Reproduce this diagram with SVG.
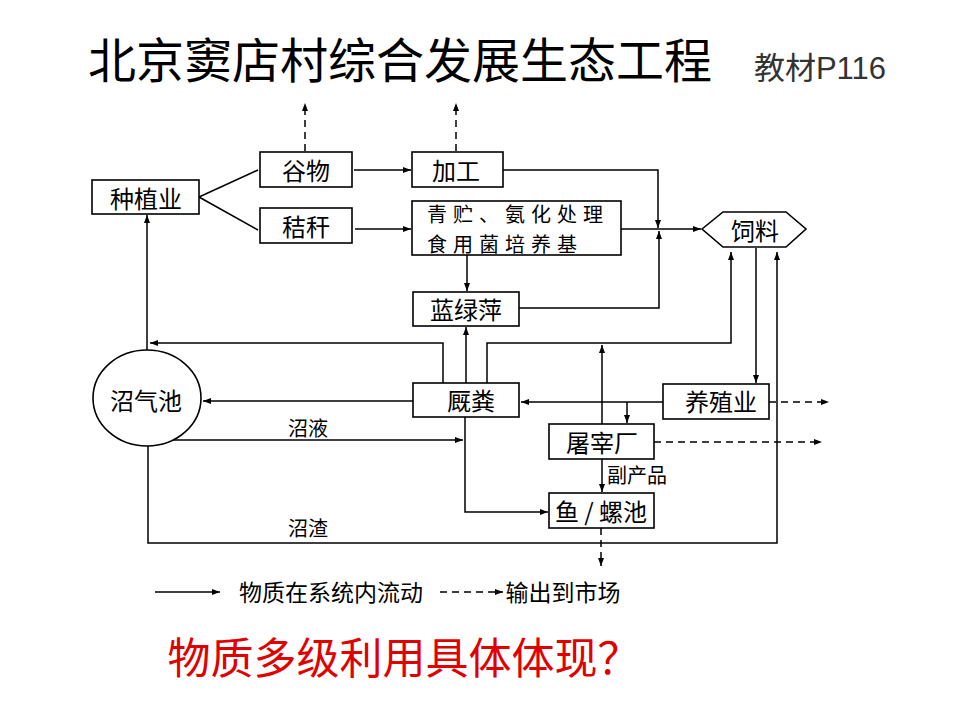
<svg xmlns="http://www.w3.org/2000/svg" width="960" height="720" viewBox="0 0 960 720">
<defs>
<marker id="ah" markerUnits="userSpaceOnUse" markerWidth="9" markerHeight="6" refX="8" refY="3" orient="auto"><path d="M0,0 L8,3 L0,6 z" fill="#000"/></marker>
</defs>
<style>
.box{fill:#fff;stroke:#000;stroke-width:1.6}
.ln{fill:none;stroke:#000;stroke-width:1.5}
.ar{fill:none;stroke:#000;stroke-width:1.5;marker-end:url(#ah)}
.da{fill:none;stroke:#000;stroke-width:1.5;stroke-dasharray:7 5;marker-end:url(#ah)}
.t{font-family:"Noto Sans CJK SC","Noto Sans CJK TC",sans-serif;font-size:24px;fill:#000;text-anchor:middle;dominant-baseline:central}
.s{font-family:"Noto Sans CJK SC",sans-serif;font-size:20px;fill:#000;dominant-baseline:central}
</style>
<rect width="960" height="720" fill="#fff"/>
<text x="400" y="57" font-family="'Noto Sans CJK SC',sans-serif" font-size="48" text-anchor="middle" dominant-baseline="central" fill="#000">北京窦店村综合发展生态工程</text>
<text x="820" y="68" font-family="'Liberation Sans','Noto Sans CJK SC',sans-serif" font-size="31" text-anchor="middle" dominant-baseline="central" fill="#333">教材P116</text>

<g id="connectors">
<path class="ln" d="M199,197 L258,170"/>
<path class="ln" d="M199,197 L258,230"/>
<path class="ar" d="M354,170 H411"/>
<path class="ar" d="M355,229 H411"/>
<path class="da" d="M305,151 V103"/>
<path class="da" d="M456,151 V103"/>
<path class="ar" d="M503,170 H658 V228"/>
<path class="ar" d="M621,229 H701"/>
<path class="ar" d="M519,308 H659 V231"/>
<path class="ar" d="M467,255 V291"/>
<path class="ar" d="M466,383 V327"/>
<path class="ar" d="M443,383 V343 H150"/>
<path class="ar" d="M487,383 V343 H731 V252"/>
<path class="ar" d="M602,424 V345"/>
<path class="ar" d="M756,248 V383"/>
<path class="ar" d="M148,446 V543 H777 V252"/>
<path class="ar" d="M663,402 H521"/>
<path class="ar" d="M627,402 V423"/>
<path class="ar" d="M413,401 H203"/>
<path class="ar" d="M147,350 V215"/>
<path class="ar" d="M173,440 H463"/>
<path class="ar" d="M465,417 V512 H548"/>
<path class="ar" d="M602,459 V492"/>
<path class="da" d="M601,528 V566"/>
<path class="da" d="M769,402 H829"/>
<path class="da" d="M654,442 H822"/>
<path class="ar" d="M155,592 H220"/>
<path class="da" d="M440,592 H503"/>
</g>

<g id="n-zhongzhi"><rect class="box" x="92" y="180" width="107" height="34"/><text class="t" x="146" y="197">种植业</text></g>
<g id="n-guwu"><rect class="box" x="260" y="152" width="92" height="35"/><text class="t" x="306" y="169">谷物</text></g>
<g id="n-jiegan"><rect class="box" x="260" y="208" width="92" height="35"/><text class="t" x="306" y="225">秸秆</text></g>
<g id="n-jiagong"><rect class="box" x="412" y="152" width="91" height="35"/><text class="t" x="456" y="169">加工</text></g>
<g id="n-qingzhu"><rect class="box" x="412" y="201" width="209" height="54"/><text class="t" style="text-anchor:start;font-size:20px;letter-spacing:6px"><tspan x="427" y="213">青贮、氨化处理</tspan><tspan x="427" y="243">食用菌培养基</tspan></text></g>
<g id="n-siliao"><polygon class="box" points="702,229 723,212 786,212 806,229 786,247 723,247"/><text class="t" x="755" y="229">饲料</text></g>
<g id="n-lanlvping"><rect class="box" x="413" y="292" width="106" height="34"/><text class="t" x="466" y="308">蓝绿萍</text></g>
<g id="n-jiufen"><rect class="box" x="413" y="383" width="106" height="34"/><text class="t" x="471" y="399">厩粪</text></g>
<g id="n-yangzhi"><rect class="box" x="663" y="384" width="106" height="35"/><text class="t" x="721" y="400">养殖业</text></g>
<g id="n-tuzai"><rect class="box" x="549" y="424" width="105" height="35"/><text class="t" x="602" y="441">屠宰厂</text></g>
<g id="n-yuluo"><rect class="box" x="549" y="493" width="105" height="35"/><text class="t" x="601" y="510">鱼 / 螺池</text></g>
<g id="n-zhaoqi"><ellipse class="box" cx="147" cy="398" rx="54" ry="48"/><text class="t" x="146" y="399">沼气池</text></g>

<g id="labels">
<text class="s" x="288" y="427">沼液</text>
<text class="s" x="288" y="527">沼渣</text>
<text class="s" x="607" y="474">副产品</text>
<text class="t" x="331" y="591" style="font-size:23px">物质在系统内流动</text>
<text class="t" x="563" y="591" style="font-size:23px">输出到市场</text>
<text x="404" y="655" font-family="'Noto Sans CJK SC',sans-serif" font-size="43" text-anchor="middle" dominant-baseline="central" fill="#e00000">物质多级利用具体体现？</text>
</g>
</svg>
